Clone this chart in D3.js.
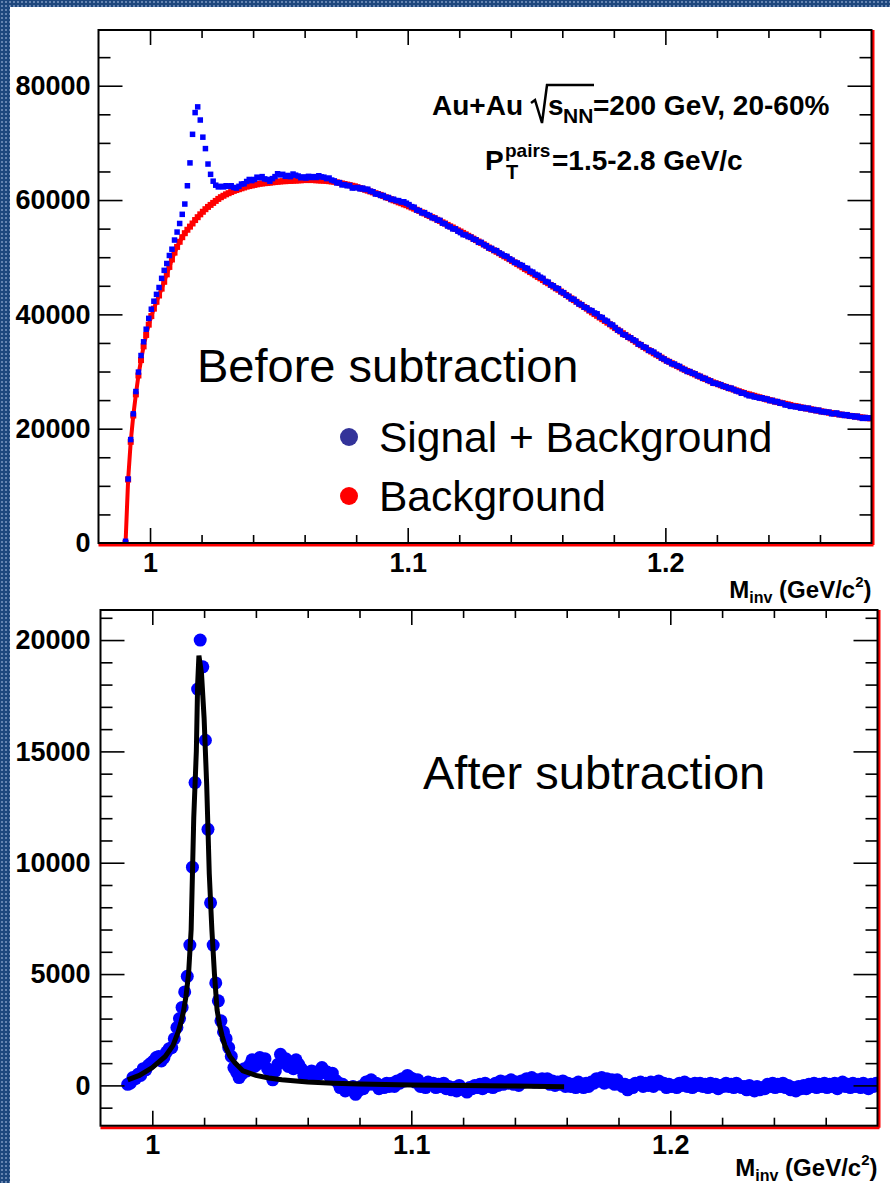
<!DOCTYPE html>
<html>
<head>
<meta charset="utf-8">
<script src="https://cdn.jsdelivr.net/npm/d3@7"></script>
<style>
body { margin: 0; background: #fff; }
svg text { font-family: "Liberation Sans", Arial, Helvetica, sans-serif; }
</style>
</head>
<body>
<svg id="chart" width="890" height="1183"></svg>
<script>
// histogram bins, 1 MeV wide, first bin centre at 0.9905 GeV/c^2
var binStart = 0.9905;
var binWidth = 0.001;

// top pad: same-event pairs (signal + background)
var signalPlusBg = [300,
11200,18100,22600,26500,29900,32800,35200,37400,39300,40900,
42300,43500,44700,46300,47700,48900,50300,51400,53000,54400,
55900,57500,59300,62500,66500,71500,75300,76300,74000,71000,
69000,66300,64500,63300,62600,62300,62400,62300,62500,62400,
62500,62200,62100,62400,62800,62850,63250,63600,63400,63600,
64000,63900,64100,63700,63600,63300,63750,64100,64600,64400,
64500,64150,64300,64100,64550,64350,64200,63900,64050,63850,
64150,63950,64100,63950,64250,64050,64000,63750,63850,63500,
63350,63000,63050,62650,62700,62500,62550,62100,62150,62200,
61950,62100,61850,61900,61550,61450,61050,61050,60800,60800,
60450,60450,60100,60150,59900,59900,59650,59700,59450,59200,
58850,58750,58250,58150,57750,57800,57450,57300,56900,56850,
56500,56450,55950,55850,55450,55300,54950,54950,54550,54300,
53950,53900,53600,53500,53150,53050,52600,52600,52200,52000,
51600,51550,51200,51150,50750,50550,50250,50150,49700,49500,
49100,49000,48700,48550,48150,48050,47550,47400,47000,46850,
46500,46300,45750,45650,45150,45000,44600,44500,43950,43800,
43350,43150,42700,42650,42200,41800,41700,41250,41150,40750,
40650,40250,40100,39550,39450,39000,38800,38300,38150,37700,
37250,37050,36500,36400,36000,35900,35550,35350,34800,34700,
34300,34200,33700,33600,33400,33000,32800,32350,32200,31850,
31700,31350,31300,31000,30900,30500,30350,30000,30000,29700,
29600,29250,29150,28800,28800,28450,28350,27950,27950,27750,
27700,27400,27350,27050,27100,26850,26600,26500,26200,26250,
25950,25750,25800,25550,25500,25350,25400,25200,25200,24900,
24950,24700,24750,24450,24450,24150,24150,23900,23950,23800,
23850,23600,23700,23500,23600,23300,23350,23150,23250,22950,
23000,22850,22900,22600,22650,22750,22450,22500,22300,22450,
22200,22250,22050,22200,21950,21800,21950,21800,21900];

// top pad: mixed-event background
var background = [0,
11100,17700,22300,26000,29300,32000,34400,36400,38200,39700,
41000,42200,43300,44500,45700,47000,48300,49600,50800,51800,
52700,53500,54200,54800,55350,55900,56500,57000,57500,57950,
58400,58800,59150,59500,59850,60200,60500,60750,61000,61200,
61400,61600,61750,61900,62050,62200,62350,62450,62550,62650,
62750,62850,62900,62950,63000,63050,63100,63150,63200,63250,
63300,63300,63350,63350,63400,63400,63450,63450,63500,63500,
63500,63500,63500,63450,63450,63400,63400,63350,63300,63250,
63200,63100,63000,62900,62800,62700,62600,62500,62400,62250,
62100,61950,61800,61650,61500,61350,61200,61050,60900,60700,
60500,60350,60150,59950,59800,59600,59450,59250,59100,58900,
58700,58500,58300,58100,57850,57650,57400,57200,57000,56800,
56550,56350,56100,55900,55650,55400,55200,54950,54700,54500,
54250,54000,53750,53500,53250,53000,52750,52500,52250,52000,
51700,51450,51200,50950,50700,50400,50150,49900,49650,49350,
49100,48800,48550,48250,47950,47700,47400,47150,46850,46550,
46300,46000,45700,45450,45150,44850,44550,44300,44000,43700,
43400,43100,42800,42500,42200,41900,41600,41300,41000,40650,
40350,40050,39750,39450,39150,38850,38550,38250,37900,37600,
37300,37000,36700,36400,36100,35800,35500,35200,34850,34600,
34300,34050,33750,33500,33200,32950,32700,32450,32150,31900,
31700,31450,31200,31000,30750,30550,30300,30100,29900,29700,
29500,29300,29100,28900,28700,28500,28300,28100,27950,27800,
27600,27450,27300,27150,27000,26850,26700,26550,26400,26250,
26100,26000,25850,25750,25600,25500,25350,25250,25100,25000,
24900,24750,24650,24550,24450,24350,24250,24150,24000,23950,
23850,23750,23650,23550,23500,23400,23300,23200,23150,23050,
22950,22900,22800,22750,22650,22600,22500,22450,22400,22350,
22250,22200,22150,22100,22000,21950,21900,21850,21800];

// bottom pad: after background subtraction
var subtracted = [50,
100,350,300,500,450,750,700,900,1000,1100,
1250,1300,1100,1250,1500,1650,1700,2100,2600,3000,
3500,4200,4900,6300,9800,13600,17800,20000,18800,15500,
11500,8200,6300,4600,3800,2900,2400,2100,1700,1300,
800,600,350,500,750,650,900,1150,850,950,
1250,1050,1200,750,600,250,650,950,1400,1150,
1200,850,950,750,1150,950,750,450,550,350,
650,450,600,500,800,650,600,400,550,250,
150,-100,50,-250,-100,-200,-50,-400,-250,-50,
-150,150,50,250,50,100,-150,0,-100,100,
-50,100,-50,200,100,300,200,450,350,300,
150,250,-50,50,-100,150,50,100,-100,50,
-50,100,-150,-50,-200,-100,-250,0,-150,-200,
-300,-100,-150,0,-100,50,-150,100,-50,0,
-100,100,0,200,50,150,100,250,50,150,
0,200,150,300,200,350,150,250,150,300,
200,300,50,200,0,150,50,200,-50,100,
-50,50,-100,150,0,-100,100,-50,150,100,
300,200,350,100,300,150,250,50,250,100,
-50,50,-200,0,-100,100,50,150,-50,100,
0,150,-50,100,200,50,100,-100,50,-50,
0,-100,100,0,150,-50,50,-100,100,0,
100,-50,50,-100,100,-50,50,-150,0,-50,
100,-50,50,-100,100,0,-100,-50,-200,0,
-150,-250,-50,-200,-100,-150,50,-50,100,-100,
50,-50,100,-100,0,-200,-100,-250,-50,-150,
0,-150,50,-50,100,-100,50,-50,100,-100,
50,-50,100,-150,0,150,-50,50,-100,100,
-50,50,-100,100,-50,-150,50,-50,100];

// fit curve (Breit-Wigner + residual background)
var fitMass = [0.9905,0.995,1.000,1.005,1.008,1.010,1.011,1.012,1.013,1.014,1.015,1.016,1.017,1.0175,1.018,
               1.019,1.020,1.021,1.022,1.023,1.0235,1.024,1.025,1.026,1.027,1.028,1.030,1.032,1.035,1.040,
               1.045,1.050,1.060,1.070,1.080,1.100,1.120,1.140,1.159];
var fitValue = [250,450,800,1300,1800,2400,2800,3300,4000,5000,7000,12000,15000,18000,19300,
                18500,16500,13500,9500,7000,6000,5000,3400,2700,2200,1800,1300,1000,650,450,
                330,250,150,100,60,20,0,-30,-60];

// tick labels
var xMajor = [1.0, 1.1, 1.2];
var xMinor = [1.02,1.04,1.06,1.08,1.12,1.14,1.16,1.18,1.22,1.24,1.26];
var yMajorTop = [0, 20000, 40000, 60000, 80000];
var yMajorBot = [0, 5000, 10000, 15000, 20000];

var svg = d3.select("#chart");

// blue dotted slide background
var defs = svg.append("defs");
var pat = defs.append("pattern").attr("id", "bgpat")
  .attr("width", 4).attr("height", 4).attr("patternUnits", "userSpaceOnUse");
pat.append("rect").attr("width", 4).attr("height", 4).attr("fill", "#1d477d");
pat.append("rect").attr("x", 1).attr("y", 1).attr("width", 2).attr("height", 2).attr("fill", "#6584b0");

svg.append("rect").attr("width", 890).attr("height", 1183).attr("fill", "url(#bgpat)");
svg.append("rect").attr("x", 10).attr("y", 7).attr("width", 880).attr("height", 1176).attr("fill", "#fff");

function bins(values) {
  return values.map(function(v, i) { return {m: binStart + i * binWidth, v: v}; });
}

// one ROOT style pad: frame, ticks on all four sides
function makePad(id, x, y, opt) {
  var g = svg.append("g").attr("id", id);
  var x0 = x.range()[0], x1 = x.range()[1];
  var y0 = y.range()[0], y1 = y.range()[1];

  defs.append("clipPath").attr("id", id + "-clip")
    .append("rect").attr("x", x0).attr("y", y1).attr("width", x1 - x0).attr("height", y0 - y1);

  var data = g.append("g").attr("clip-path", "url(#" + id + "-clip)");

  var fmt = function(d) { return d; };

  g.append("g").attr("transform", "translate(0," + y0 + ")")
    .call(d3.axisBottom(x).tickValues(xMajor).tickSize(-15).tickPadding(opt.xPad).tickFormat(fmt));
  g.append("g").attr("transform", "translate(0," + y0 + ")")
    .call(d3.axisBottom(x).tickValues(xMinor).tickSize(-8).tickFormat(""));
  g.append("g").attr("transform", "translate(0," + y1 + ")")
    .call(d3.axisTop(x).tickValues(xMajor).tickSize(-15).tickFormat(""));
  g.append("g").attr("transform", "translate(0," + y1 + ")")
    .call(d3.axisTop(x).tickValues(xMinor).tickSize(-8).tickFormat(""));

  g.append("g").attr("transform", "translate(" + x0 + ",0)")
    .call(d3.axisLeft(y).tickValues(opt.yMajor).tickSize(-24).tickPadding(opt.yPad).tickFormat(d3.format("d")));
  g.append("g").attr("transform", "translate(" + x0 + ",0)")
    .call(d3.axisLeft(y).tickValues(opt.yMinor).tickSize(-12).tickFormat(""));
  g.append("g").attr("transform", "translate(" + x1 + ",0)")
    .call(d3.axisRight(y).tickValues(opt.yMajor).tickSize(-24).tickFormat(""));
  g.append("g").attr("transform", "translate(" + x1 + ",0)")
    .call(d3.axisRight(y).tickValues(opt.yMinor).tickSize(-12).tickFormat(""));

  g.selectAll(".domain").remove();
  g.selectAll(".tick line").attr("stroke", "#000").attr("stroke-width", 1.6);
  g.selectAll(".tick text").attr("fill", "#000").style("font-size", "27px").style("font-weight", "bold");

  // frame, right and bottom edges in red like the original pad
  g.append("line").attr("x1", x0).attr("x2", x1 + 2).attr("y1", y0 + 2).attr("y2", y0 + 2)
    .attr("stroke", "#f00").attr("stroke-width", 3);
  g.append("line").attr("x1", x1 + 1.5).attr("x2", x1 + 1.5).attr("y1", y1).attr("y2", y0 + 2)
    .attr("stroke", "#f00").attr("stroke-width", 3);
  g.append("rect").attr("x", x0).attr("y", y1).attr("width", x1 - x0).attr("height", y0 - y1)
    .attr("fill", "none").attr("stroke", "#000").attr("stroke-width", 2);

  // axis title
  var t = g.append("text").attr("x", x1).attr("y", opt.titleY).attr("text-anchor", "end")
    .style("font-size", "24px").style("font-weight", "bold");
  t.append("tspan").text("M");
  t.append("tspan").attr("dy", 5).style("font-size", "16px").text("inv");
  t.append("tspan").attr("dy", -5).text(" (GeV/c");
  t.append("tspan").attr("dy", -11).style("font-size", "15px").text("2");
  t.append("tspan").attr("dy", 11).text(")");

  return data;
}

// ---------- top pad ----------
var xTop = d3.scaleLinear().domain([0.98, 1.28]).range([98.5, 871.5]);
var yTop = d3.scaleLinear().domain([0, 89750]).range([543, 30]);

var topData = makePad("top", xTop, yTop, {
  yMajor: yMajorTop,
  yMinor: d3.range(5000, 90000, 5000).filter(function(d) { return d % 20000 != 0; }),
  xPad: 10, yPad: 8, titleY: 598
});

var bg = bins(background);
topData.append("path").datum(bg)
  .attr("d", d3.line().x(function(d) { return xTop(d.m); }).y(function(d) { return yTop(d.v); }))
  .attr("fill", "none").attr("stroke", "#f00").attr("stroke-width", 4);
topData.selectAll(".bgpt").data(bg).enter().append("rect").attr("class", "bgpt")
  .attr("x", function(d) { return xTop(d.m) - 3; })
  .attr("y", function(d) { return yTop(d.v) - 3; })
  .attr("width", 6).attr("height", 6).attr("fill", "#f00");

topData.selectAll(".sigpt").data(bins(signalPlusBg)).enter().append("rect").attr("class", "sigpt")
  .attr("x", function(d) { return xTop(d.m) - 2.75; })
  .attr("y", function(d) { return yTop(d.v) - 2.75; })
  .attr("width", 5.5).attr("height", 5.5).attr("fill", "#00f");

// header text
var hdr = svg.append("g").style("font-weight", "bold").attr("fill", "#000");
hdr.append("text").attr("x", 432).attr("y", 115).style("font-size", "28px").text("Au+Au");
hdr.append("path").attr("d", "M531,103 L535,100 L542,123 L547,85 L594,85")
  .attr("fill", "none").attr("stroke", "#000").attr("stroke-width", 2.5);
hdr.append("text").attr("x", 548).attr("y", 115).style("font-size", "28px").text("s");
hdr.append("text").attr("x", 563).attr("y", 123).style("font-size", "21px").text("NN");
hdr.append("text").attr("x", 593).attr("y", 115).style("font-size", "28px").text("=200 GeV, 20-60%");
hdr.append("text").attr("x", 485).attr("y", 170).style("font-size", "28px").text("P");
hdr.append("text").attr("x", 505).attr("y", 157).style("font-size", "19px").text("pairs");
hdr.append("text").attr("x", 506).attr("y", 179).style("font-size", "20px").text("T");
hdr.append("text").attr("x", 552).attr("y", 170).style("font-size", "28px").text("=1.5-2.8 GeV/c");

svg.append("text").attr("x", 197).attr("y", 382).style("font-size", "47px").text("Before subtraction");

// legend
var legend = [{label: "Signal + Background", color: "#333399", y: 437},
              {label: "Background", color: "#ff0000", y: 496}];
var lg = svg.selectAll(".leg").data(legend).enter().append("g").attr("class", "leg");
lg.append("circle").attr("cx", 349).attr("cy", function(d) { return d.y; }).attr("r", 9)
  .attr("fill", function(d) { return d.color; });
lg.append("text").attr("x", 379).attr("y", function(d) { return d.y + 15; })
  .style("font-size", "42.5px").text(function(d) { return d.label; });

// ---------- bottom pad ----------
var xBot = d3.scaleLinear().domain([0.98, 1.28]).range([100.5, 877.5]);
var yBot = d3.scaleLinear().domain([-1810, 21350]).range([1125.7, 610]);

var botData = makePad("bot", xBot, yBot, {
  yMajor: yMajorBot,
  yMinor: d3.range(-1000, 22000, 1000).filter(function(d) { return d % 5000 != 0; }),
  xPad: 9, yPad: 10, titleY: 1176
});

botData.selectAll(".subpt").data(bins(subtracted)).enter().append("circle").attr("class", "subpt")
  .attr("cx", function(d) { return xBot(d.m); })
  .attr("cy", function(d) { return yBot(d.v); })
  .attr("r", 6.5).attr("fill", "#00f");

var fit = fitMass.map(function(m, i) { return {m: m, v: fitValue[i]}; });
botData.append("path").datum(fit)
  .attr("d", d3.line().x(function(d) { return xBot(d.m); }).y(function(d) { return yBot(d.v); }))
  .attr("fill", "none").attr("stroke", "#000").attr("stroke-width", 5);

svg.append("text").attr("x", 423).attr("y", 789).style("font-size", "47px").text("After subtraction");
</script>
</body>
</html>
